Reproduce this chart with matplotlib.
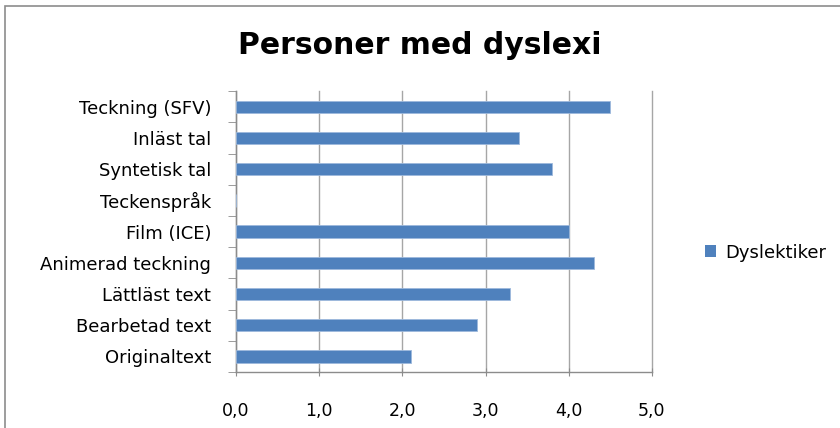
import numpy as np
import matplotlib
matplotlib.use("Agg")
import matplotlib.pyplot as plt
from matplotlib.patches import Rectangle, Patch
from matplotlib.ticker import FixedLocator, FuncFormatter

# categories listed bottom to top
categories = ["Originaltext", "Bearbetad text", "Lättläst text", "Animerad teckning",
              "Film (ICE)", "Teckenspråk", "Syntetisk tal", "Inläst tal", "Teckning (SFV)"]
dyslektiker = [2.1, 2.9, 3.3, 4.3, 4.0, 0.0, 3.8, 3.4, 4.5]
series_name = "Dyslektiker"
title = "Personer med dyslexi"

plt.rcParams["font.family"] = ["DejaVu Sans"]

fig = plt.figure(figsize=(8.4, 4.28), dpi=100)
ax = fig.add_axes([0.281, 0.131, 0.495, 0.656])

y = np.arange(len(categories))
ax.barh(y, dyslektiker, height=0.4, color="#4F81BD", edgecolor="#9DB9DC", linewidth=0.6,
        label=series_name, zorder=3)

ax.set_xlim(0, 5)
ax.set_ylim(-0.5, len(categories) - 0.5)
ax.set_xticks(np.arange(0, 5.01, 1))
ax.xaxis.set_major_formatter(FuncFormatter(lambda v, p: f"{v:.1f}".replace(".", ",")))
ax.set_yticks(y)
ax.set_yticklabels(categories)
ax.yaxis.set_minor_locator(FixedLocator(np.arange(-0.5, len(categories), 1)))

ax.grid(axis="x", color="#A6A6A6", linewidth=1.0, zorder=0)
for line in ax.get_xgridlines():
    line.set_clip_on(False)
for s in ["top", "right"]:
    ax.spines[s].set_visible(False)
for s in ["left", "bottom"]:
    ax.spines[s].set_color("#8C8C8C")
    ax.spines[s].set_linewidth(1.0)

ax.tick_params(axis="y", which="major", length=0, pad=18, labelsize=13, colors="#000000")
ax.tick_params(axis="y", which="minor", length=6, color="#8C8C8C", direction="out")
ax.tick_params(axis="x", length=6, color="#8C8C8C", direction="inout", pad=19,
               labelsize=12.5)

fig.text(0.5, 0.893, title, ha="center", va="center", fontsize=21.5, fontweight="bold")

fig.legend(handles=[Patch(facecolor="#4F81BD", label=series_name)],
           loc="center left", bbox_to_anchor=(0.82, 0.41), frameon=False,
           fontsize=13, handlelength=0.6, handleheight=0.6, handletextpad=0.5)

fig.patches.append(Rectangle((0.006, -0.01), 1.1, 0.995, transform=fig.transFigure,
                             fill=False, edgecolor="#8C8C8C", linewidth=1.2))

fig.savefig("out.png", dpi=100)
